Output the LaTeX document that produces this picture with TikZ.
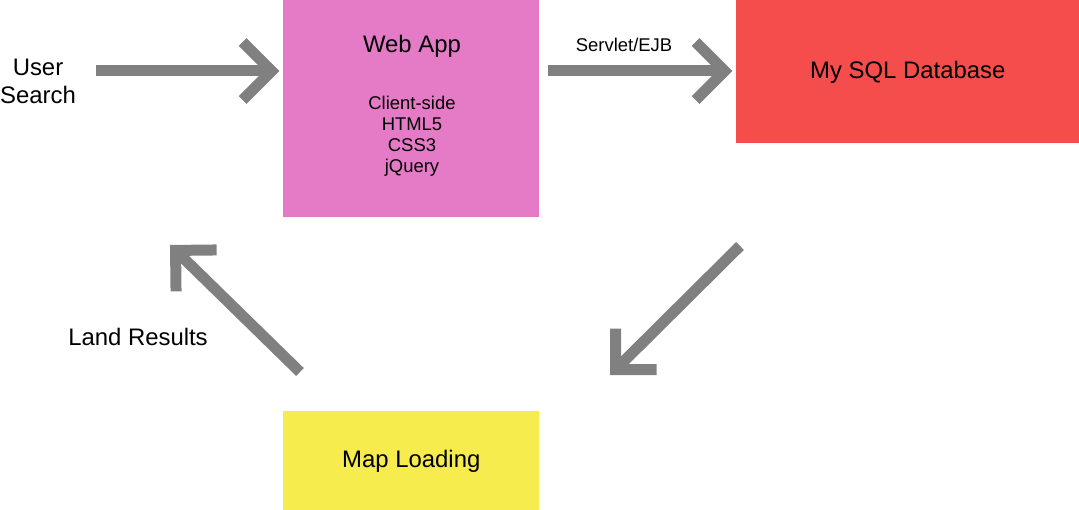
\documentclass[tikz,border=0pt]{standalone}
\usepackage{fontspec}
\setmainfont{Liberation Sans}
\usetikzlibrary{positioning}
\usetikzlibrary{arrows.meta}

\definecolor{webpink}{HTML}{E57BC6}
\definecolor{sqlred}{HTML}{F54C4C}
\definecolor{mapyellow}{HTML}{F6EC4E}
\definecolor{flowgray}{HTML}{808080}

\begin{document}
\begin{tikzpicture}[x=0.02cm, y=-0.02cm,
	box/.style={rectangle, inner sep=0pt, align=center, anchor=north west},
	flow/.style={draw=flowgray, line width=0.22cm, -{Straight Barb[sharp, length=0.58cm, width=1.16cm]}},
	big/.style={font=\fontsize{13.6}{16}\selectfont},
	small/.style={font=\fontsize{10.5}{12}\selectfont, align=center}]
	 % Set the size of the page
	 \useasboundingbox (0,0) rectangle (1079,510);

	 % The three boxes
	 \node[box, fill=webpink, minimum width=5.12cm, minimum height=4.34cm] (webapp) at (283,0) {};
	 \node[box, fill=sqlred, minimum width=6.86cm, minimum height=2.86cm] (mysql) at (736,0) {};
	 \node[box, fill=mapyellow, minimum width=5.12cm, minimum height=1.98cm] (maps) at (283,411) {};

	 \node[big] (webtitle) at (412,46) {Web App};
	 \node[small, below=0.53cm of webtitle] (webtech) {Client-side\\HTML5\\CSS3\\jQuery};
	 \node[big] (sqltitle) at (mysql.center) {My SQL Database};
	 \node[big] (maptitle) at (maps.center) {Map Loading};

	 % Texts beside the arrows
	 \node[big, align=center, font=\fontsize{13.6}{15.9}\selectfont] (user) at (38,81) {User\\Search};
	 \node[big] (land) at (138,337) {Land Results};

	 % Free ends of the diagonal arrows
	 \coordinate (usr-out) at (96,71);
	 \coordinate (sql-out) at (740,246);
	 \coordinate (map-in) at (610,375);
	 \coordinate (map-out) at (300,372);
	 \coordinate (web-in) at (170,245);

	 \draw[flow, shorten >=2pt] (usr-out) -- (usr-out -| webapp.west);
	 \draw[flow, shorten <=5pt, shorten >=2pt] (webapp.east |- usr-out) -- node[small, pos=0.43, above=0.16cm] (servlet) {Servlet/EJB} (mysql.west |- usr-out);
	 \draw[flow] (sql-out) -- (map-in);
	 \draw[flow] (map-out) -- (web-in);
\end{tikzpicture}
\end{document}
